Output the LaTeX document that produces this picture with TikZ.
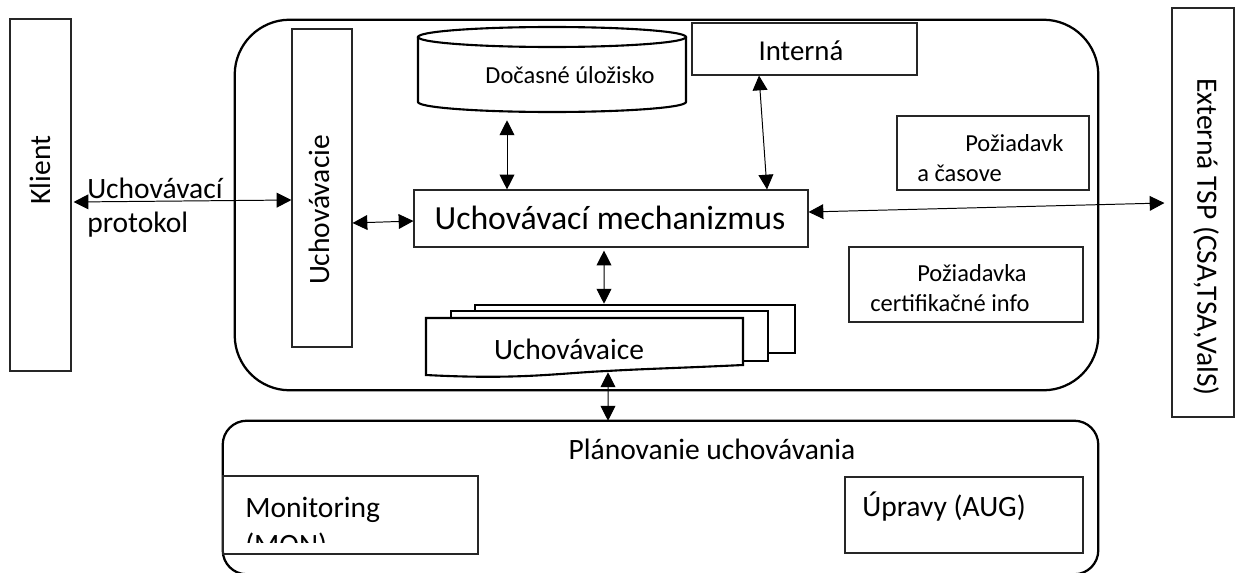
\documentclass[tikz,border=0pt]{standalone}
\usepackage{fontspec}
\setmainfont{Carlito}
\usetikzlibrary{arrows.meta,fit,calc}
\tikzset{
  box/.style={draw=black!85,line width=0.8pt,inner sep=0pt},    % plain frame
  frame/.style={draw=black,line width=1.6pt},                   % rounded outer frame
  sheet/.style={draw=black,line width=1.5pt,fill=white},        % cylinder and pages
  bi/.style={{Triangle[length=10.5pt,width=10.5pt]}-{Triangle[length=10.5pt,width=10.5pt]},line width=0.7pt},
  big/.style={font=\fontsize{21}{25}\selectfont,inner sep=0pt},
  small/.style={font=\fontsize{17.4}{21}\selectfont,inner sep=0pt},
}
\newcommand{\docsheet}[4]{% x1, y1, x2, y2
  \filldraw[sheet] (#1,#2) rectangle (#3,#4);
}

\begin{document}
\begin{tikzpicture}[x=0.025cm,y=-0.025cm]
  \useasboundingbox (0,0) rectangle (1236,572);
  % outer frames
  \node[fit={(235,20) (1098,390)},inner sep=0pt] (core) {};
  \draw[frame,rounded corners=1.375cm] (core.north west) rectangle (core.south east);
  \node[fit={(223,421) (1098,574)},inner sep=0pt] (plan) {};
  \draw[frame,rounded corners=0.6cm] (plan.north west) rectangle (plan.south east);
  \node[big,anchor=base] at (712,459) {Plánovanie uchovávania};

  \node[box,fit={(10,19) (71,371)}] (klient) {};
  \node[big,rotate=90] at (40,170) {Klient};
  \node[box,fit={(292,29) (352,347)}] (uchov) {};
  \node[big,rotate=90] at (319,210) {Uchovávacie};
  \node[box,fit={(1172,8) (1234,417)}] (ext) {};
  \node[big,rotate=-90] at (1206,237) {Externá TSP (CSA,TSA,ValS)};
  \node[big,anchor=base west] at (87,198) {Uchovávací};
  \node[big,anchor=base west] at (87,232) {protokol};

  % temporary storage
  \node[fit={(418,27) (686,112)},inner sep=0pt] (store) {};
  \filldraw[sheet] (418,37) -- (418,102) arc[start angle=180,end angle=0,x radius=134,y radius=10] -- (686,37);
  \draw[sheet] (552,37) ellipse[x radius=134,y radius=10];
  \node[small] at (570,75) {Dočasné úložisko};

  \node[box,fit={(692,23) (917,75)}] (intern) {};
  \node[big,font=\fontsize{20.5}{24}\selectfont] at (801,51) {Interná};
  \node[box,fit={(414,190) (808,247)}] (mech) {};
  \node[big,font=\fontsize{24}{28}\selectfont] at (610,218) {Uchovávací mechanizmus};

  \node[box,fit={(897,116) (1089,190)}] (req1) {};
  \node[small,anchor=west] at (965,143) {Požiadavk};
  \node[small,anchor=west] at (917,173) {a časove};
  \node[box,fit={(849,247) (1083,322)}] (req2) {};
  \node[small,anchor=west] at (917,273) {Požiadavka};
  \node[small,anchor=west] at (870,303) {certifikačné info};

  % document stack
  \docsheet{475}{305}{795}{353}
  \docsheet{451}{311}{768}{361}
  \filldraw[sheet] (426,318) -- (743,318) -- (743,365) .. controls (680,368) and (640,369) .. (607,371) .. controls (560,373) and (520,380) .. (426,375) -- cycle;
  \node[fit={(426,318) (743,375)},inner sep=0pt] (docs) {};
  \node[big] at (569,349) {Uchovávaice};

  % planning boxes
  \node[box,fit={(223,476) (478,554)}] (monit) {};
  \begin{scope}
    \clip (monit.north west) rectangle ($(monit.south east)+(0,-12)$);
    \node[big,anchor=base west] at (245,517) {Monitoring};
    \node[big,anchor=base west] at (245,554) {(MON)};
  \end{scope}
  \node[box,fit={(845,477) (1083,553)}] (edits) {};
  \node[big,anchor=base west] at (862,516) {Úpravy (AUG)};

  % connectors
  \draw[bi] ($(klient.east)+(2,7)$) -- ($(uchov.west)+(0,12)$);
  \draw[bi] ($(uchov.east)+(0,35)$) -- ($(mech.west)+(0,2.5)$);
  \draw[bi] ($(store.south)+(-45,8)$) -- ($(mech.north)+(-104,0)$);
  \draw[bi] ($(intern.south)+(-45.5,0)$) -- ($(mech.north)+(156,0)$);
  \draw[bi] ($(mech.east)+(0,-6.5)$) -- ($(ext.west)+(-7,-9.5)$);
  \draw[bi] ($(mech.south)+(-7,3)$) -- ($(docs.north)+(19.5,-14)$);
  \draw[bi] ($(docs.south)+(23.5,-3)$) -- ($(plan.north)+(-52.5,0)$);
\end{tikzpicture}
\end{document}
